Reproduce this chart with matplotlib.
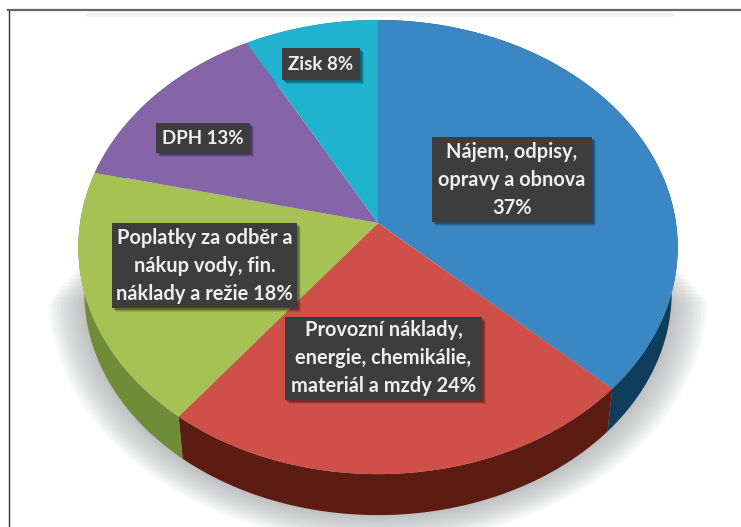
import numpy as np
import matplotlib.pyplot as plt
from matplotlib.patches import Rectangle, Ellipse

plt.rcParams['font.family'] = ['Lato', 'DejaVu Sans']

# hodnoty z grafu (odhad z obrazku, popisky jsou zaokrouhlene)
labels = ['Nájem, odpisy,\nopravy a obnova\n37%',
          'Provozní náklady,\nenergie, chemikálie,\nmateriál a mzdy 24%',
          'Poplatky za odběr a\nnákup vody, fin.\nnáklady a režie 18%',
          'DPH 13%',
          'Zisk 8%']
values = [37, 23.5, 18.2, 13.3, 8]
top_colors = ['#3b87c4', '#cf5049', '#a6c255', '#8565a8', '#1fb3cf']
side_colors = ['#0f3d5c', '#5c1b13', '#6f8c38', '#5a4378', '#14788c']

# label boxes: left, top, right, bottom in pixels
boxes = [(432, 137, 592, 222), (285, 317, 482, 400), (112, 223, 297, 308),
         (156, 123, 250, 153), (282, 48, 360, 80)]
font_sizes = [14.4, 14.4, 14.4, 13.5, 13.5]

W, H = 741, 527
CX, CY = 378, 223   # apex
PERSP = 0.106
SCALE_X, SCALE_Y = 298, 224.5
DEPTH = 46
BOTTOM_SHRINK = 0.98


def project(angle):
    # angle clockwise from the top of the pie, tilted with simple perspective
    u, v = np.sin(angle), np.cos(angle)
    w = 1 + PERSP * v
    return CX + SCALE_X * u / w, CY - SCALE_Y * v / w


fig = plt.figure(figsize=(W / 100, H / 100), dpi=100)
ax = fig.add_axes([0, 0, 1, 1])
ax.set_xlim(0, W)
ax.set_ylim(H, 0)
ax.axis('off')

# soft shadow under the pie, stacked see-through ellipses
for s in np.linspace(1.0, 0.86, 16):
    e = Ellipse((378, 295), 2 * 330 * s, 2 * 248 * s, color='#8f9296', alpha=0.06, lw=0, zorder=1)
    ax.add_patch(e)
    top = 245 + (s - 0.86) * 400
    e.set_clip_path(Rectangle((0, top), W, H - top, transform=ax.transData))

# frame and the washed out line above the pie
ax.plot([8.5, 8.5], [10, H], color='#333333', lw=1.0, zorder=2)
ax.plot([8, W], [10, 10], color='#666666', lw=1.6, zorder=2)
ax.plot([88, 672], [15, 15], color='#f3f3f3', lw=3, zorder=2)

edges = 2 * np.pi * np.cumsum([0] + values) / sum(values)

# side of the pie first
for i in range(len(values)):
    t = np.linspace(edges[i], edges[i + 1], 120)
    x, y = project(t)
    x_low = CX + (x - CX) * BOTTOM_SHRINK
    y_low = CY + (y - CY) * BOTTOM_SHRINK + DEPTH
    ax.fill(np.r_[x, x_low[::-1]], np.r_[y, y_low[::-1]],
            color=side_colors[i], lw=0, zorder=3)

# top of the pie
for i in range(len(values)):
    t = np.linspace(edges[i], edges[i + 1], 120)
    x, y = project(t)
    ax.fill(np.r_[CX, x], np.r_[CY, y], color=top_colors[i], lw=0, zorder=4)

# labels
for text, (x0, y0, x1, y1), size in zip(labels, boxes, font_sizes):
    for k, a in zip([4, 3, 1.5], [0.1, 0.15, 0.25]):
        ax.add_patch(Rectangle((x0 + k, y0 + k), x1 - x0, y1 - y0,
                               color='black', alpha=a, lw=0, zorder=5))
    ax.add_patch(Rectangle((x0, y0), x1 - x0, y1 - y0, color='#3d3d3d', lw=0, zorder=6))
    ax.text((x0 + x1) / 2, (y0 + y1) / 2, text, color='#eeeeee', fontsize=size,
            fontweight='bold', ha='center', va='center', linespacing=1.5, zorder=7)

fig.savefig('out.png', dpi=100)
